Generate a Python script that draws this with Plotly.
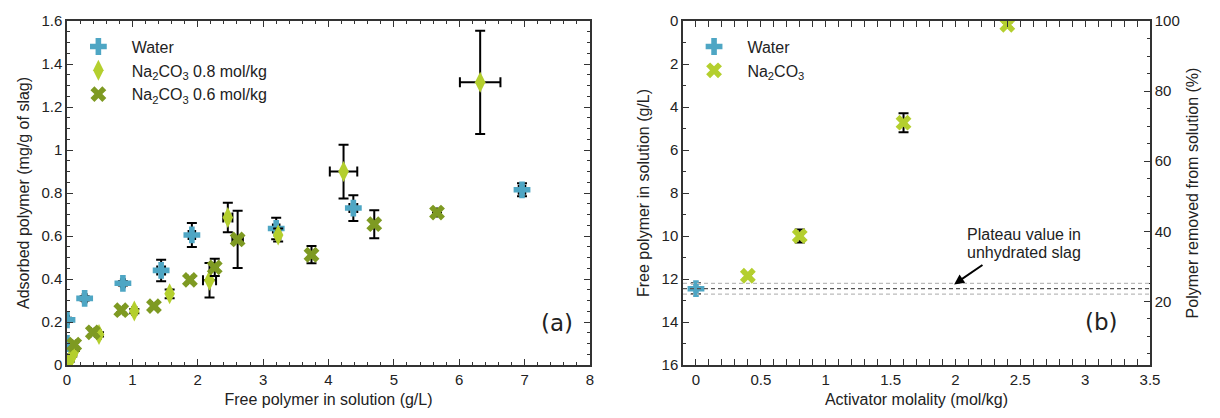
import plotly.graph_objects as go

# ---------- Panel (a) data ----------
water_x = [0.0, 0.0, 0.27, 0.855, 1.44, 1.91, 3.2, 4.38, 6.96]
water_y = [0.21, 0.10, 0.31, 0.38, 0.44, 0.605, 0.635, 0.73, 0.815]
water_ey = [0.01, 0.01, 0.01, 0.01, 0.05, 0.056, 0.05, 0.06, 0.03]
water_ex = [0.03, 0.03, 0.03, 0.03, 0.06, 0.05, 0.05, 0.06, 0.05]

na08_x = [0.04, 0.08, 0.12, 0.49, 1.03, 1.57, 2.18, 2.46, 3.23, 4.23, 6.32]
na08_y = [0.02, 0.045, 0.07, 0.142, 0.251, 0.331, 0.394, 0.686, 0.605, 0.90, 1.315]
na08_ey = [0.005, 0.005, 0.005, 0.01, 0.01, 0.02, 0.08, 0.069, 0.03, 0.125, 0.24]
na08_ex = [0.01, 0.01, 0.01, 0.03, 0.03, 0.03, 0.1, 0.07, 0.03, 0.21, 0.31]

na06_x = [0.11, 0.395, 0.83, 1.33, 1.88, 2.26, 2.61, 3.74, 4.70, 5.66]
na06_y = [0.095, 0.152, 0.255, 0.274, 0.396, 0.454, 0.584, 0.513, 0.655, 0.709]
na06_ey = [0.01, 0.01, 0.01, 0.01, 0.01, 0.04, 0.133, 0.04, 0.065, 0.0]
na06_ex = [0.03, 0.03, 0.03, 0.03, 0.03, 0.05, 0.08, 0.03, 0.03, 0.0]

# ---------- Panel (b) data ----------
water_mol = [0.0]
water_free = [12.45]
water_free_err = [0.25]

na_mol = [0.4, 0.8, 1.6, 2.4]
na_free = [11.85, 10.0, 4.73, 0.18]
na_free_err = [0.1, 0.3, 0.44, 0.1]

plateau_levels = [12.2, 12.45, 12.7]
plateau_colors = ["#bbbbbb", "#555555", "#bbbbbb"]
plateau_text = ["Plateau value in", "unhydrated slag"]
initial_conc = 16.3  # g/L, maps free polymer to % removed

BLUE = "#4ea6c4"
LGREEN = "#b4cf2e"
OLIVE = "#7e9a22"
FAM = "Liberation Sans, Arial, sans-serif"
TICKFONT = dict(family=FAM, size=15, color="#222")
TITLEFONT = dict(family=FAM, size=16, color="#222")
PAD = "\u00a0\u00a0\u00a0"

fig = go.Figure()

def eb(arr, visible=True):
    return dict(type="data", array=arr, visible=visible, color="black", thickness=2, width=5)

fig.add_trace(go.Scatter(x=water_x, y=water_y, mode="markers", name=PAD + "Water",
                         marker=dict(symbol="cross", size=14, color=BLUE),
                         error_y=eb(water_ey), error_x=eb(water_ex),
                         xaxis="x", yaxis="y", legend="legend"))
fig.add_trace(go.Scatter(x=na08_x, y=na08_y, mode="markers",
                         name=PAD + "Na<sub>2</sub>CO<sub>3</sub> 0.8 mol/kg",
                         marker=dict(symbol="diamond-tall", size=15, color=LGREEN),
                         error_y=eb(na08_ey), error_x=eb(na08_ex),
                         xaxis="x", yaxis="y", legend="legend"))
fig.add_trace(go.Scatter(x=na06_x, y=na06_y, mode="markers",
                         name=PAD + "Na<sub>2</sub>CO<sub>3</sub> 0.6 mol/kg",
                         marker=dict(symbol="x", size=14, color=OLIVE),
                         error_y=eb(na06_ey), error_x=eb(na06_ex),
                         xaxis="x", yaxis="y", legend="legend"))

# panel b
for lvl, col in zip(plateau_levels, plateau_colors):
    fig.add_shape(type="line", xref="x2 domain", yref="y2", x0=0, x1=1, y0=lvl, y1=lvl,
                  line=dict(color=col, width=1.3, dash="4px,3px"))

fig.add_trace(go.Scatter(x=water_mol, y=water_free, mode="markers", name=PAD + "Water",
                         marker=dict(symbol="cross", size=14, color=BLUE),
                         error_y=eb(water_free_err),
                         xaxis="x2", yaxis="y2", legend="legend2"))
fig.add_trace(go.Scatter(x=na_mol, y=na_free, mode="markers",
                         name=PAD + "Na<sub>2</sub>CO<sub>3</sub>",
                         marker=dict(symbol="x", size=14, color=LGREEN),
                         error_y=eb(na_free_err),
                         xaxis="x2", yaxis="y2", legend="legend2"))
# invisible trace to activate the right-hand axis
fig.add_trace(go.Scatter(x=[None], y=[None], mode="markers", showlegend=False,
                         xaxis="x2", yaxis="y3", hoverinfo="skip"))

common = dict(showline=True, linecolor="#333", linewidth=1.5, ticks="inside",
              tickcolor="#333", ticklen=6, tickwidth=1.2, showgrid=False, zeroline=False,
              tickfont=TICKFONT, title_font=TITLEFONT)
minor = lambda d: dict(dtick=d, ticks="inside", ticklen=3.5, tickcolor="#333", tickwidth=1, showgrid=False)

L = 523 / 1083
R0 = 616 / 1083

fig.update_layout(
    width=1220, height=418,
    margin=dict(l=67, r=70, t=15, b=53),
    paper_bgcolor="white", plot_bgcolor="white",
    xaxis=dict(domain=[0, L], range=[0, 8], dtick=1, mirror="allticks",
               title=dict(text="Free polymer in solution (g/L)", standoff=7),
               minor=minor(0.2), anchor="y", **common),
    yaxis=dict(domain=[0, 1], range=[0, 1.6], dtick=0.2, mirror="allticks",
               title=dict(text="Adsorbed polymer (mg/g of slag)", standoff=8),
               minor=minor(0.05), anchor="x", **common),
    xaxis2=dict(domain=[R0, 1], range=[-0.1, 3.5], dtick=0.5, mirror="allticks",
                title=dict(text="Activator molality (mol/kg)", standoff=7),
                minor=minor(0.1), anchor="y2", **common),
    yaxis2=dict(domain=[0, 1], range=[16, 0], dtick=2, mirror=False,
                title=dict(text="Free polymer in solution (g/L)", standoff=8),
                minor=minor(1), anchor="x2", **common),
    yaxis3=dict(range=[100 * (1 - 16 / initial_conc), 100], dtick=20, overlaying="y2",
                side="right", anchor="x2",
                title=dict(text="Polymer removed from solution (%)", standoff=8),
                minor=minor(5), **common),
    legend=dict(x=0.0105, y=0.975, xanchor="left", yanchor="top", bgcolor="rgba(0,0,0,0)",
                font=dict(family=FAM, size=16, color="#222"), tracegroupgap=3),
    legend2=dict(x=0.579, y=0.975, xanchor="left", yanchor="top", bgcolor="rgba(0,0,0,0)",
                 font=dict(family=FAM, size=16, color="#222")),
    showlegend=True,
)

fig.add_annotation(xref="paper", yref="paper", x=(557 - 67) / 1083, y=1 - (338 - 15) / 350,
                   text="(a)", showarrow=False,
                   font=dict(family="DejaVu Sans", size=23, color="#222"))
fig.add_annotation(xref="paper", yref="paper", x=(1120 - 67) / 1083, y=1 - (337 - 15) / 350,
                   text="(b)", showarrow=False,
                   font=dict(family="DejaVu Sans", size=23, color="#222"))
for txt, yv in zip(plateau_text, [9.95, 10.78]):
    fig.add_annotation(xref="x2", yref="y2", x=2.53, y=yv, text=txt, showarrow=False,
                       font=dict(family=FAM, size=16, color="#222"))
fig.add_annotation(xref="x2", yref="y2", x=1.99, y=12.25, axref="x2", ayref="y2",
                   ax=2.22, ay=11.3, text="", showarrow=True, arrowhead=2, arrowsize=1,
                   arrowwidth=2, arrowcolor="black")

fig.write_html("out.html")
